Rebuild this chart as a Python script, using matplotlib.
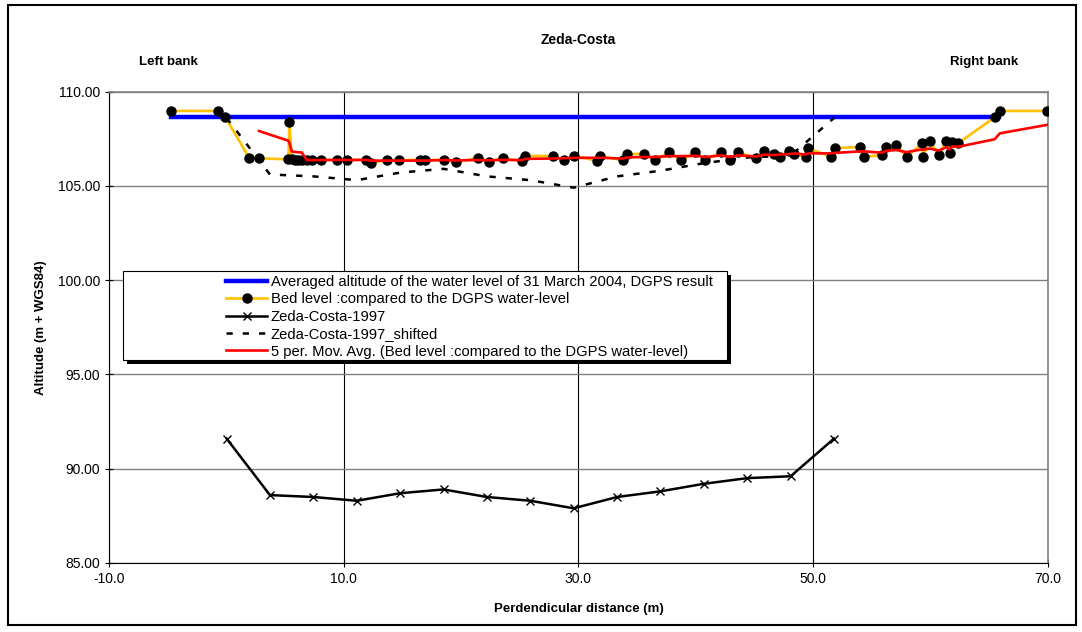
import numpy as np
import pandas as pd
import matplotlib.pyplot as plt
from matplotlib.patches import Rectangle
from matplotlib.lines import Line2D

plt.rcParams['font.family'] = ['Liberation Sans', 'DejaVu Sans']

# water level (DGPS)
water_x = [-4.7, 65.9]
water_y = [108.63, 108.63]

# bed level compared to DGPS water level
bed_x = [-4.73, -0.70, -0.13, 1.95, 2.77, 5.27, 5.36, 5.56, 5.84, 6.13, 6.41, 6.84,
         7.27, 8.06, 9.45, 10.26, 11.90, 12.30, 13.67, 14.66, 16.51, 16.94, 18.58,
         19.58, 21.40, 22.40, 23.57, 25.19, 25.47, 27.80, 28.74, 29.65, 31.59, 31.87,
         33.81, 34.15, 35.56, 36.56, 37.76, 38.78, 39.98, 40.83, 42.17, 42.96, 43.58,
         45.18, 45.80, 46.71, 47.23, 47.94, 48.42, 49.39, 49.56, 51.58, 51.89, 54.05,
         54.33, 55.90, 56.27, 57.10, 57.98, 59.32, 59.37, 59.94, 60.73, 61.37, 61.65,
         61.88, 62.36, 65.49, 65.94, 69.98]
bed_y = [108.97, 108.97, 108.66, 106.46, 106.46, 106.40, 108.37, 106.40, 106.35, 106.35,
         106.38, 106.35, 106.38, 106.37, 106.37, 106.37, 106.38, 106.19, 106.37, 106.37,
         106.37, 106.37, 106.37, 106.24, 106.49, 106.28, 106.49, 106.30, 106.58, 106.58,
         106.37, 106.58, 106.33, 106.58, 106.35, 106.69, 106.69, 106.35, 106.78, 106.35,
         106.78, 106.37, 106.78, 106.37, 106.78, 106.46, 106.86, 106.67, 106.54, 106.86,
         106.67, 106.54, 106.99, 106.54, 106.99, 107.07, 106.54, 106.63, 107.07, 107.16,
         106.54, 107.25, 106.54, 107.39, 106.63, 107.39, 106.72, 107.34, 107.25, 108.63,
         108.97, 108.97]

# 1997 survey
survey_x = [0, 3.7, 7.4, 11.1, 14.8, 18.5, 22.2, 25.9, 29.6, 33.3, 37.0, 40.7, 44.4, 48.1, 51.8]
survey_y = [91.6, 88.6, 88.5, 88.3, 88.7, 88.9, 88.5, 88.3, 87.9, 88.5, 88.8, 89.2, 89.5, 89.6, 91.6]
shift = 17.0

labels = ["Averaged altitude of the water level of 31 March 2004, DGPS result",
          "Bed level :compared to the DGPS water-level",
          "Zeda-Costa-1997",
          "Zeda-Costa-1997_shifted",
          "5 per. Mov. Avg. (Bed level :compared to the DGPS water-level)"]

W, H = 1082, 632
fig = plt.figure(figsize=(W / 100, H / 100), dpi=100)
ax = fig.add_axes([109.3 / W, 1 - 563 / H, (1047.5 - 109.3) / W, (563 - 91.5) / H])

bed = pd.DataFrame({"x": bed_x, "y": bed_y}).sort_values("x")
mov = bed["y"].rolling(5).mean()

ax.plot(water_x, water_y, color="#0000FF", lw=3.2, zorder=3)
ax.plot(bed_x, bed_y, color="#FFC000", lw=1.9, marker="o", ms=6.5,
        mfc="black", mec="black", zorder=4)
ax.plot(survey_x, survey_y, color="black", lw=1.8, marker="x", ms=6, mew=1.0, zorder=4)
ax.plot(survey_x, np.array(survey_y) + shift, color="black", lw=1.8,
        dashes=(2.5, 4), zorder=4)
ax.plot(bed["x"], mov, color="#FF0000", lw=1.9, zorder=5)

ax.set_xlim(-10, 70)
ax.set_ylim(85, 110)
ax.set_xticks([-10, 10, 30, 50, 70])
ax.set_xticklabels([f"{v:.1f}" for v in [-10, 10, 30, 50, 70]])
ax.set_yticks([85, 90, 95, 100, 105, 110])
ax.set_yticklabels([f"{v:.2f}" for v in [85, 90, 95, 100, 105, 110]])
ax.tick_params(direction="inout", length=6, width=0.8, labelsize=10, colors="black")
ax.xaxis.grid(True, color="black", lw=0.8)
ax.yaxis.grid(True, color="#808080", lw=1.0)
ax.set_axisbelow(True)
for s in ["top", "right"]:
    ax.spines[s].set_color("#808080")
    ax.spines[s].set_linewidth(1.2)
for s in ["left", "bottom"]:
    ax.spines[s].set_color("black")
    ax.spines[s].set_linewidth(0.8)

ax.set_xlabel("Perdendicular distance (m)", fontsize=9.5, fontweight="bold", labelpad=12)
ax.set_ylabel("Altitude (m + WGS84)", fontsize=9.5, fontweight="bold", labelpad=8)

fig.text(578 / W, 1 - 40 / H, "Zeda-Costa", ha="center", va="center", fontsize=10, fontweight="bold")
fig.text(168 / W, 1 - 62 / H, "Left bank", ha="center", va="center", fontsize=9.5, fontweight="bold")
fig.text(984 / W, 1 - 62 / H, "Right bank", ha="center", va="center", fontsize=9.5, fontweight="bold")

# legend box with shadow
lx0, ly0, lx1, ly1 = 123, 271, 727, 360
fig.add_artist(Rectangle(((lx0 + 4) / W, 1 - (ly1 + 4) / H), (lx1 - lx0) / W, (ly1 - ly0) / H,
                         transform=fig.transFigure, facecolor="black", edgecolor="none", zorder=2))
fig.add_artist(Rectangle((lx0 / W, 1 - ly1 / H), (lx1 - lx0) / W, (ly1 - ly0) / H,
                         transform=fig.transFigure, facecolor="white", edgecolor="black",
                         lw=0.8, zorder=3))

handles = [Line2D([], [], color="#0000FF", lw=3.2),
           Line2D([], [], color="#FFC000", lw=1.9, marker="o", ms=6.5, mfc="black", mec="black"),
           Line2D([], [], color="black", lw=1.8, marker="x", ms=6, mew=1.0),
           Line2D([], [], color="black", lw=1.8, dashes=(2.5, 4)),
           Line2D([], [], color="#FF0000", lw=1.9)]
fig.legend(handles, labels, loc="upper left", bbox_to_anchor=(226 / W, 1 - 275 / H),
           bbox_transform=fig.transFigure, frameon=False, borderpad=0, borderaxespad=0,
           fontsize=10.6, handlelength=2.8, handletextpad=0.25, labelspacing=0.23)

# outer chart border
fig.add_artist(Rectangle((8 / W, 1 - 625 / H), (1076 - 8) / W, (625 - 5) / H,
                         transform=fig.transFigure, fill=False, edgecolor="black", lw=1.5, zorder=10))

fig.savefig("out.png", dpi=100)
